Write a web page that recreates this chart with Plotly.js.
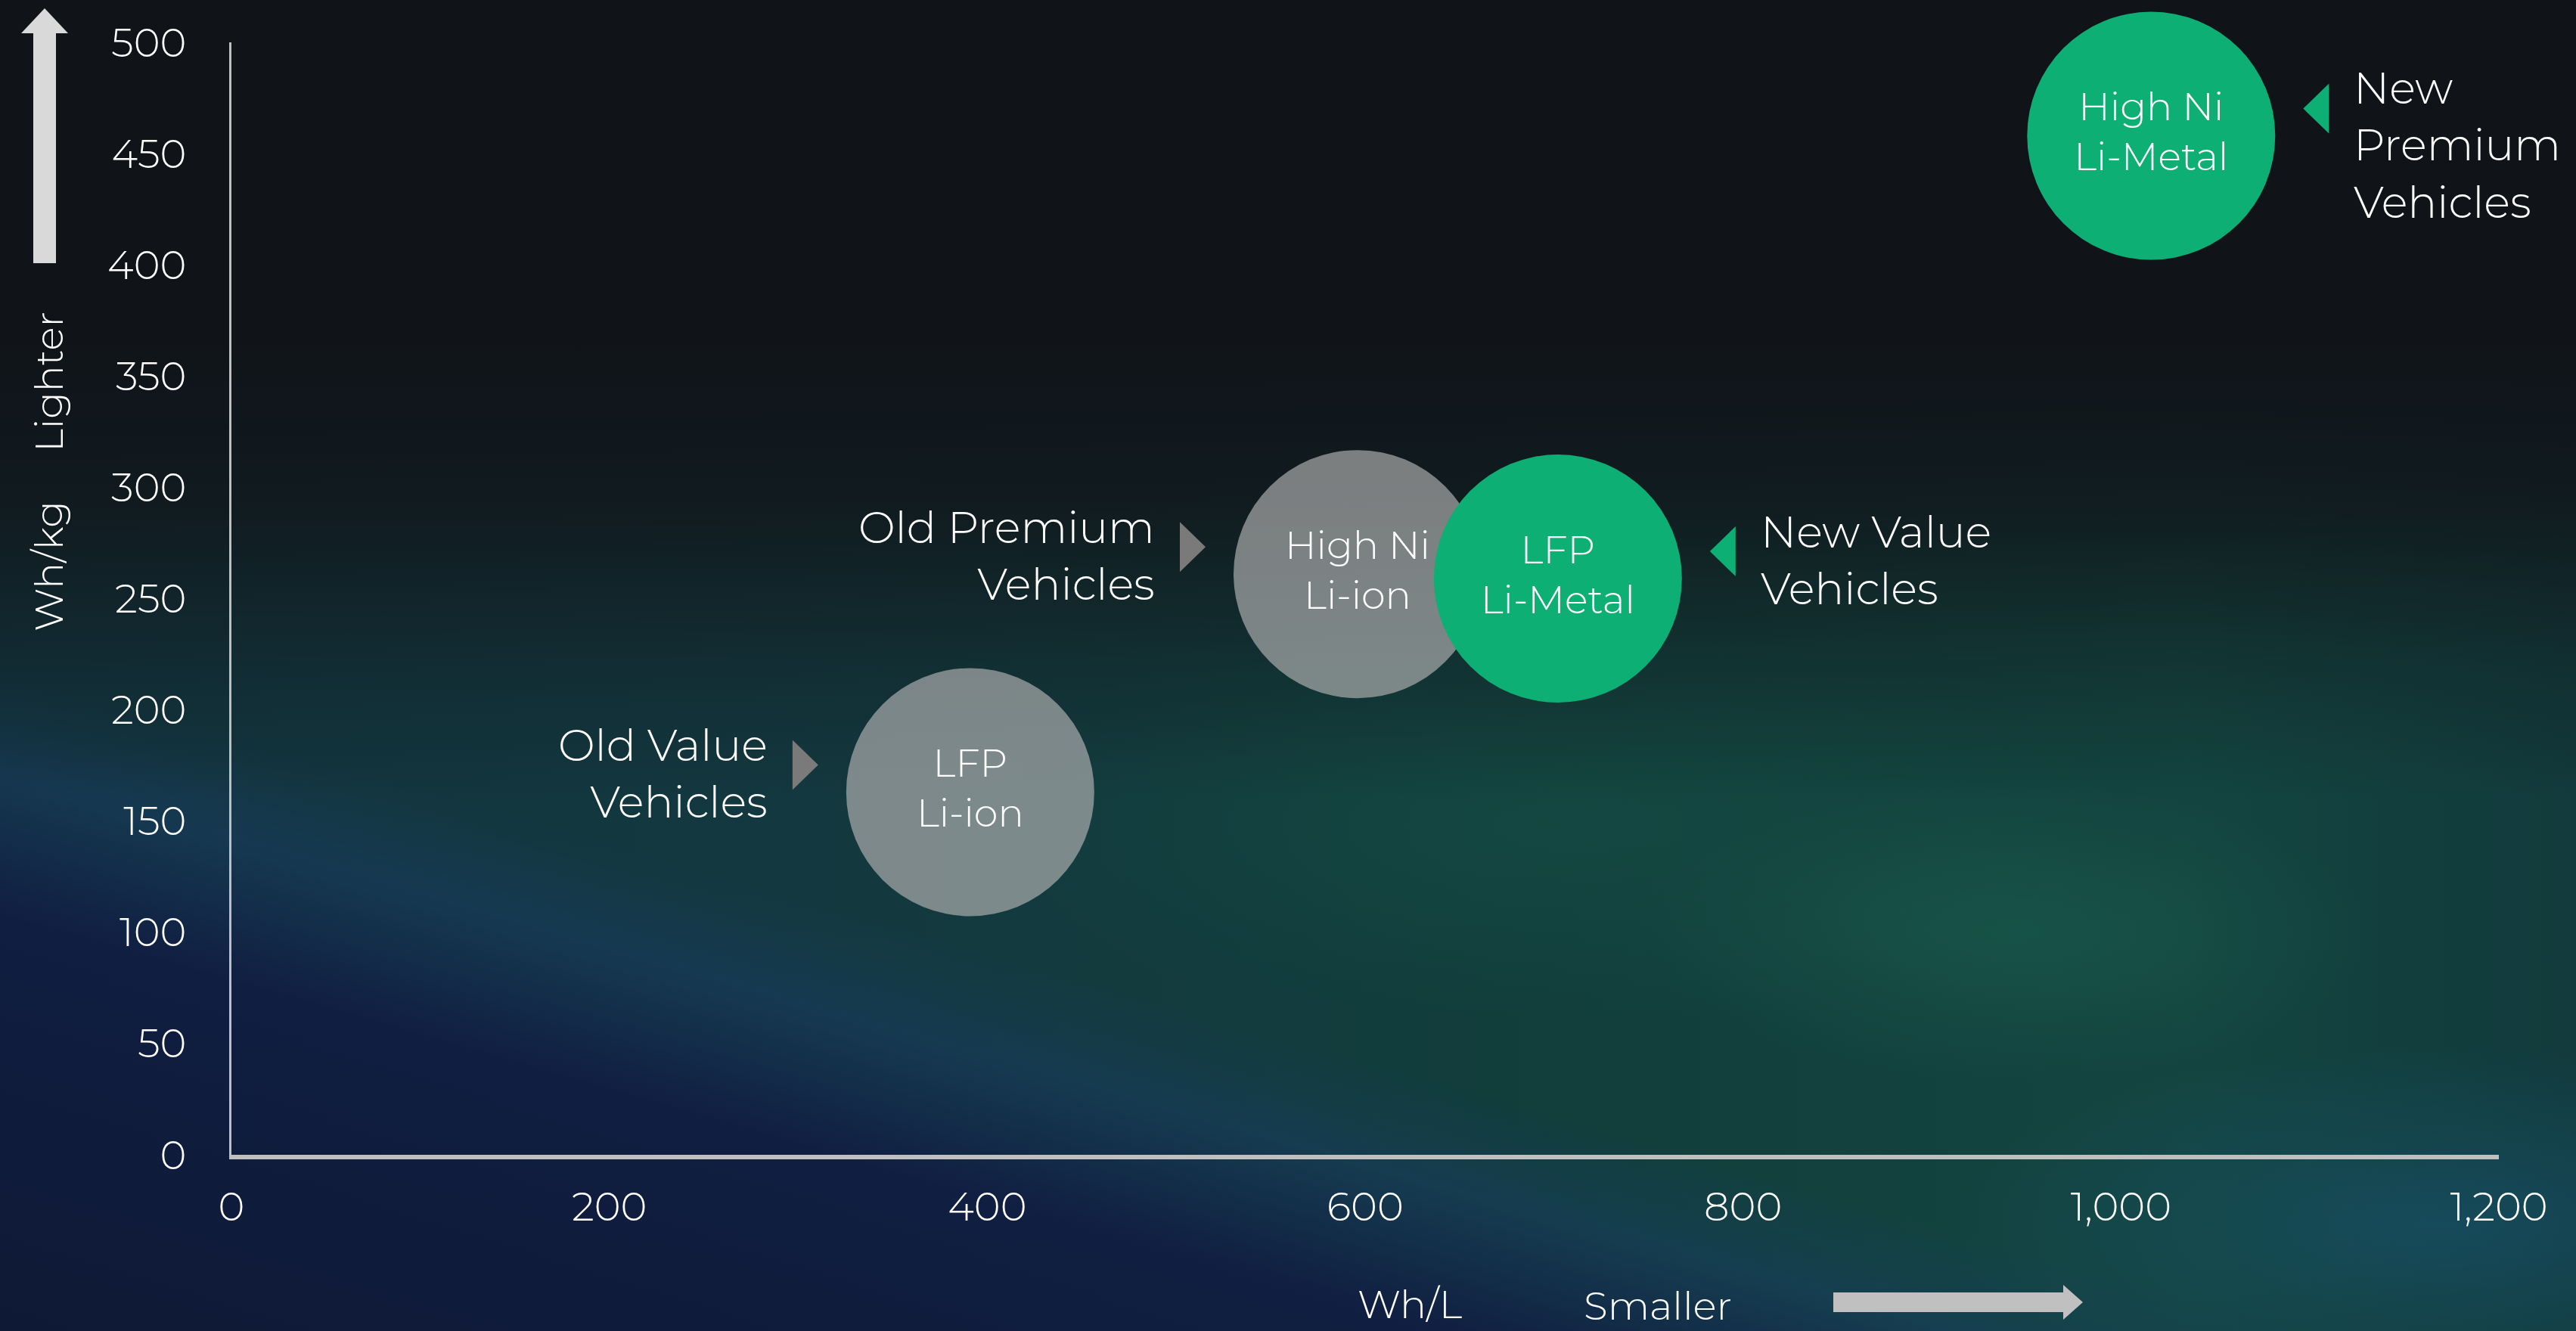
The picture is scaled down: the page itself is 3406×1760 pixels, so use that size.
<!DOCTYPE html>
<html>
<head>
<meta charset="utf-8">
<script src="https://cdn.plot.ly/plotly-3.0.1.min.js"></script>
<style>
html, body { margin:0; padding:0; width:3406px; height:1760px; overflow:hidden; background:#101419; }
#chart {
  width:3406px; height:1760px;
  background:
    linear-gradient(to bottom, #101419 0%, #101419 26%, rgba(16,22,26,0.85) 38%, rgba(16,26,30,0.35) 50%, rgba(16,30,35,0.0) 60%),
    radial-gradient(ellipse 20% 16% at 78% 70%, rgba(30,105,85,0.40), rgba(30,105,85,0) 70%),
    radial-gradient(ellipse 30% 20% at 60% 62%, rgba(22,85,72,0.40), rgba(22,85,72,0) 75%),
    radial-gradient(ellipse 26% 18% at 95% 92%, rgba(25,85,115,0.55), rgba(25,85,115,0) 75%),
    linear-gradient(196deg, rgba(0,0,0,0) 0%, rgba(0,0,0,0) 68%, rgba(24,60,95,0.55) 73%, rgba(16,28,66,0.92) 80%, rgba(14,24,52,0.97) 100%),
    linear-gradient(to right, #12343e 0%, #13383f 30%, #123e3c 60%, #134540 85%, #123a3c 100%);
}
</style>
</head>
<body>
<div id="chart"></div>
<script>
// ---- data ----
var chemistries = ['LFP<br>Li-ion', 'High Ni<br>Li-ion', 'LFP<br>Li-Metal', 'High Ni<br>Li-Metal'];
var whPerL      = [391, 596, 702, 1016];
var whPerKg     = [163, 261, 259, 458];
var segments    = ['Old Value<br>Vehicles', 'Old Premium<br>Vehicles', 'New Value<br>Vehicles', 'New<br>Premium<br>Vehicles'];
var generation  = ['old', 'old', 'new', 'new'];
var xTickVals   = [0, 200, 400, 600, 800, 1000, 1200];
var yTickVals   = [0, 50, 100, 150, 200, 250, 300, 350, 400, 450, 500];
var xTitle = 'Wh/L', xHint = 'Smaller';
var yTitle = 'Wh/kg', yHint = 'Lighter';

// ---- styles ----
var FONT = 'Montserrat, "Open Sans", Lato, sans-serif';
var GREY_BUBBLE = 'rgba(178,178,178,0.67)';
var GREEN = '#0EAF74';
var GREY_TRI = '#7a7a7a';

var traces = ['old', 'new'].map(function (g) {
  var idx = [];
  generation.forEach(function (v, i) { if (v === g) idx.push(i); });
  return {
    type: 'scatter',
    mode: 'markers+text',
    x: idx.map(function (i) { return whPerL[i]; }),
    y: idx.map(function (i) { return whPerKg[i]; }),
    text: idx.map(function (i) { return chemistries[i]; }),
    textposition: 'middle center',
    textfont: { family: FONT, size: 51, color: '#ffffff', weight: 300 },
    marker: { size: 328, color: g === 'old' ? GREY_BUBBLE : GREEN, line: { width: 0 } },
    cliponaxis: false,
    hoverinfo: 'skip',
    showlegend: false
  };
});

var shapes = [];
var annotations = [];
generation.forEach(function (g, i) {
  var dir = g === 'old' ? -1 : 1;
  var cx = dir * 218, cy = 36, hw = 17, hh = 33;
  var tip = cx - dir * hw, base = cx + dir * hw;
  shapes.push({
    type: 'path', xref: 'x', yref: 'y',
    xsizemode: 'pixel', ysizemode: 'pixel',
    xanchor: whPerL[i], yanchor: whPerKg[i],
    path: 'M' + base + ',' + (cy + hh) + ' L' + tip + ',' + cy + ' L' + base + ',' + (cy - hh) + ' Z',
    fillcolor: g === 'old' ? GREY_TRI : GREEN,
    line: { width: 0 }
  });
  var nLines = segments[i].split('<br>').length;
  annotations.push({
    x: whPerL[i], y: whPerKg[i], xref: 'x', yref: 'y',
    text: segments[i], showarrow: false,
    xanchor: g === 'old' ? 'right' : 'left',
    align: g === 'old' ? 'right' : 'left',
    yanchor: 'middle',
    xshift: dir * 266,
    yshift: nLines === 3 ? -12 : 24,
    font: { family: FONT, size: 58, color: '#ffffff', weight: 300 }
  });
});

// axis direction arrows (decorations, pixel offsets from plot corners)
shapes.push({
  type: 'path', xref: 'paper', yref: 'paper', xsizemode: 'pixel', ysizemode: 'pixel',
  xanchor: 0, yanchor: 1,
  path: 'M-262,-292 L-262,12 L-278,12 L-247,45 L-216,12 L-232,12 L-232,-292 Z',
  fillcolor: '#d9d9d9', line: { width: 0 }
});
shapes.push({
  type: 'path', xref: 'paper', yref: 'paper', xsizemode: 'pixel', ysizemode: 'pixel',
  xanchor: 0, yanchor: 0,
  path: 'M2118,-182 L2422,-182 L2422,-172 L2448,-195 L2422,-218 L2422,-208 L2118,-208 Z',
  fillcolor: '#c0c0c0', line: { width: 0 }
});

annotations.push(
  { xref: 'paper', yref: 'paper', x: 0.5197, y: 0, yshift: -197, text: xTitle, showarrow: false,
    xanchor: 'center', yanchor: 'middle', font: { family: FONT, size: 52, color: '#ffffff', weight: 300 } },
  { xref: 'paper', yref: 'paper', x: 0.629, y: 0, yshift: -199, text: xHint, showarrow: false,
    xanchor: 'center', yanchor: 'middle', font: { family: FONT, size: 52, color: '#ffffff', weight: 300 } },
  { xref: 'paper', yref: 'paper', x: 0, xshift: -241, y: 0.529, text: yTitle, showarrow: false, textangle: -90,
    xanchor: 'center', yanchor: 'middle', font: { family: FONT, size: 52, color: '#ffffff', weight: 300 } },
  { xref: 'paper', yref: 'paper', x: 0, xshift: -241, y: 0.695, text: yHint, showarrow: false, textangle: -90,
    xanchor: 'center', yanchor: 'middle', font: { family: FONT, size: 52, color: '#ffffff', weight: 300 } }
);

var layout = {
  width: 3406, height: 1760,
  margin: { l: 306, r: 102, t: 56, b: 233 },
  paper_bgcolor: 'rgba(0,0,0,0)',
  plot_bgcolor: 'rgba(0,0,0,0)',
  showlegend: false,
  font: { family: FONT, color: '#ffffff', weight: 300 },
  xaxis: {
    range: [0, 1200], tickvals: xTickVals, tickformat: ',d',
    showgrid: false, zeroline: false,
    showline: true, linecolor: '#bfbfbf', linewidth: 6,
    ticks: 'outside', ticklen: 17, tickcolor: 'rgba(0,0,0,0)',
    tickfont: { family: FONT, size: 53, color: '#ffffff', weight: 300 },
    fixedrange: true
  },
  yaxis: {
    range: [0, 500], tickvals: yTickVals,
    showgrid: false, zeroline: false,
    showline: true, linecolor: '#bfbfbf', linewidth: 3,
    ticks: 'outside', ticklen: 46, tickcolor: 'rgba(0,0,0,0)',
    tickfont: { family: FONT, size: 53, color: '#ffffff', weight: 300 },
    fixedrange: true
  },
  shapes: shapes,
  annotations: annotations
};

Plotly.newPlot('chart', traces, layout, { staticPlot: true, displayModeBar: false });
</script>
</body>
</html>
